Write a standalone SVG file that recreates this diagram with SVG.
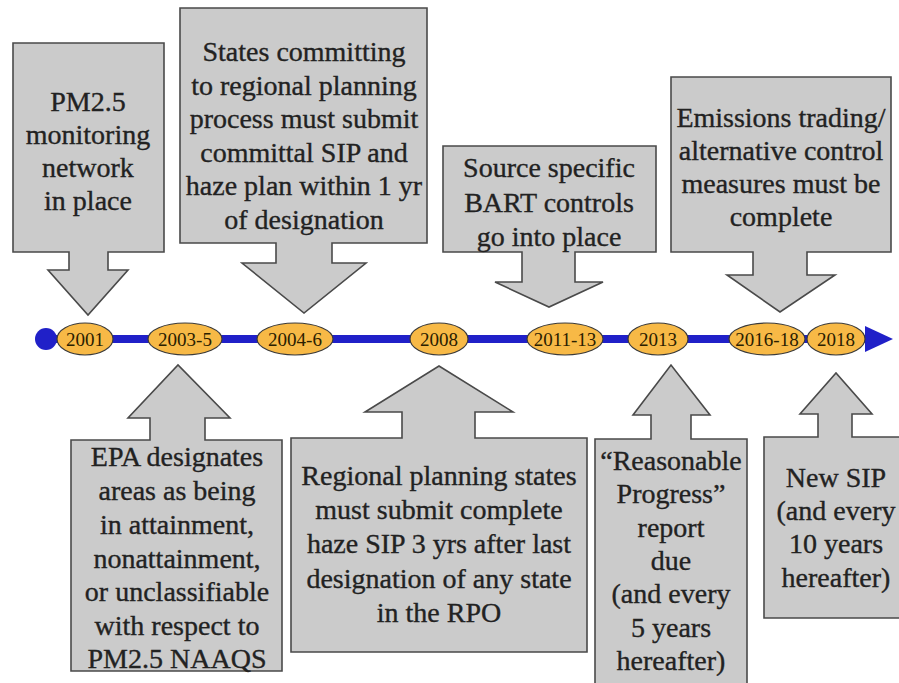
<svg xmlns="http://www.w3.org/2000/svg" width="899" height="683" viewBox="0 0 899 683">
<style>
.call{fill:#cbcbcb;stroke:#4a4a4a;stroke-width:1.6;stroke-linejoin:miter}
.t{font-family:"Liberation Serif","Times New Roman",serif;font-size:28px;fill:#222;stroke:#222;stroke-width:0.35;text-anchor:middle}
.yr{fill:#f7b946;stroke:#3a3a3a;stroke-width:1.2}
.yt{font-family:"Liberation Serif","Times New Roman",serif;font-size:19px;fill:#2a2000;text-anchor:middle}
</style>
<rect width="899" height="683" fill="#ffffff"/>

<g id="connectors">
  <line x1="46" y1="339" x2="868" y2="339" stroke="#2020c8" stroke-width="8"/>
  <polygon points="865,326 893,339 865,352" fill="#2020c8"/>
  <circle cx="46" cy="339" r="11" fill="#2020c8"/>
</g>

<g id="call-2001">
  <path class="call" d="M13,43 H164 V252 H108 V270 H128 L88,315 L48,270 H69 V252 H13 Z"/>
  <text class="t" x="88" y="111">PM2.5</text>
  <text class="t" x="88" y="144">monitoring</text>
  <text class="t" x="88" y="177">network</text>
  <text class="t" x="88" y="210">in place</text>
</g>

<g id="call-2004-6">
  <path class="call" d="M180,8 H427 V243 H332 V263 H366 L304,313 L242,263 H276 V243 H180 Z"/>
  <text class="t" x="304" y="61">States committing</text>
  <text class="t" x="304" y="95">to regional planning</text>
  <text class="t" x="304" y="128">process must submit</text>
  <text class="t" x="304" y="162">committal SIP and</text>
  <text class="t" x="304" y="195">haze plan within 1 yr</text>
  <text class="t" x="304" y="229">of designation</text>
</g>

<g id="call-2011-13">
  <path class="call" d="M443,146 H656 V252 H575 V282 H603 L549,307 L495,282 H522 V252 H443 Z"/>
  <text class="t" x="549" y="177">Source specific</text>
  <text class="t" x="549" y="212">BART controls</text>
  <text class="t" x="549" y="246">go into place</text>
</g>

<g id="call-2016-18">
  <path class="call" d="M671,77 H891 V252 H807 V275 H835 L780,312 L727,275 H753 V252 H671 Z"/>
  <text class="t" x="781" y="127">Emissions trading/</text>
  <text class="t" x="781" y="160">alternative control</text>
  <text class="t" x="781" y="193">measures must be</text>
  <text class="t" x="781" y="226">complete</text>
</g>

<g id="call-2003-5">
  <path class="call" d="M71,440 H150 V418 H128 L178,365 L230,418 H205 V440 H282 V671 H71 Z"/>
  <text class="t" x="177" y="466">EPA designates</text>
  <text class="t" x="177" y="500">areas as being</text>
  <text class="t" x="177" y="534">in attainment,</text>
  <text class="t" x="177" y="568">nonattainment,</text>
  <text class="t" x="177" y="601">or unclassifiable</text>
  <text class="t" x="177" y="635">with respect to</text>
  <text class="t" x="177" y="668">PM2.5 NAAQS</text>
</g>

<g id="call-2008">
  <path class="call" d="M291,438 H402 V412 H365 L439,366 L513,412 H475 V438 H587 V652 H291 Z"/>
  <text class="t" x="439" y="485">Regional planning states</text>
  <text class="t" x="439" y="519">must submit complete</text>
  <text class="t" x="439" y="553">haze SIP 3 yrs after last</text>
  <text class="t" x="439" y="588">designation of any state</text>
  <text class="t" x="439" y="622">in the RPO</text>
</g>

<g id="call-2013">
  <path class="call" d="M595,439 H651 V415 H633 L671,365 L710,415 H691 V439 H747 V700 H595 Z"/>
  <text class="t" x="671" y="470">“Reasonable</text>
  <text class="t" x="671" y="503">Progress”</text>
  <text class="t" x="671" y="537">report</text>
  <text class="t" x="671" y="570">due</text>
  <text class="t" x="671" y="603">(and every</text>
  <text class="t" x="671" y="637">5 years</text>
  <text class="t" x="671" y="670">hereafter)</text>
</g>

<g id="call-2018">
  <path class="call" d="M764,437 H818 V414 H800 L836,373 L872,414 H852 V437 H908 V618 H764 Z"/>
  <text class="t" x="836" y="487">New SIP</text>
  <text class="t" x="836" y="520">(and every</text>
  <text class="t" x="836" y="553">10 years</text>
  <text class="t" x="836" y="587">hereafter)</text>
</g>

<g id="y2001"><ellipse class="yr" cx="85" cy="339" rx="28" ry="16"/><text class="yt" x="85" y="346">2001</text></g>
<g id="y2003-5"><ellipse class="yr" cx="185" cy="339" rx="37" ry="16"/><text class="yt" x="185" y="346">2003-5</text></g>
<g id="y2004-6"><ellipse class="yr" cx="295" cy="339" rx="38" ry="16"/><text class="yt" x="295" y="346">2004-6</text></g>
<g id="y2008"><ellipse class="yr" cx="439" cy="339" rx="29" ry="16"/><text class="yt" x="439" y="346">2008</text></g>
<g id="y2011-13"><ellipse class="yr" cx="565" cy="339" rx="38" ry="16"/><text class="yt" x="565" y="346">2011-13</text></g>
<g id="y2013"><ellipse class="yr" cx="658" cy="339" rx="30" ry="16"/><text class="yt" x="658" y="346">2013</text></g>
<g id="y2016-18"><ellipse class="yr" cx="767" cy="339" rx="38" ry="16"/><text class="yt" x="767" y="346">2016-18</text></g>
<g id="y2018"><ellipse class="yr" cx="836" cy="339" rx="29" ry="16"/><text class="yt" x="836" y="346">2018</text></g>
</svg>
